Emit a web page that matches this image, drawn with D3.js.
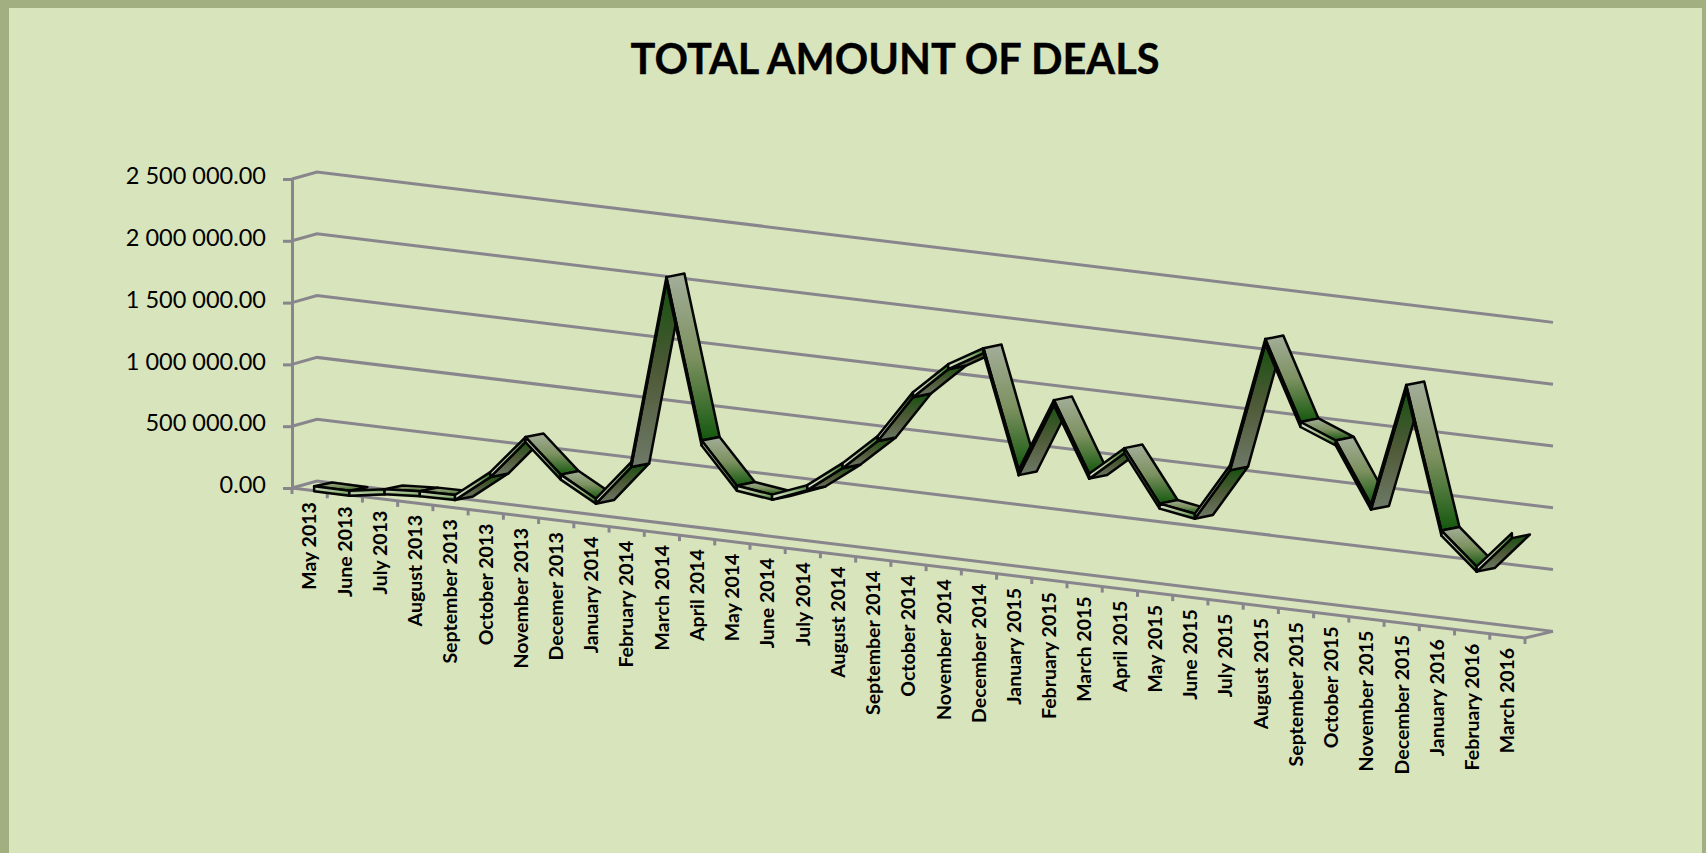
<!DOCTYPE html>
<html>
<head>
<meta charset="utf-8">
<script src="https://cdn.jsdelivr.net/npm/d3@7"></script>
<style>
  html, body { margin: 0; padding: 0; background: #d8e4bc; }
  svg { display: block; }
</style>
</head>
<body>
<div id="chart"></div>
<script>
// months and deal amounts ("Decemer" is spelled that way in the source)
var months = ["May 2013", "June 2013", "July 2013", "August 2013", "September 2013", "October 2013",
    "November 2013", "Decemer 2013", "January 2014", "February 2014", "March 2014", "April 2014",
    "May 2014", "June 2014", "July 2014", "August 2014", "September 2014", "October 2014",
    "November 2014", "December 2014", "January 2015", "February 2015", "March 2015", "April 2015",
    "May 2015", "June 2015", "July 2015", "August 2015", "September 2015", "October 2015",
    "November 2015", "December 2015", "January 2016", "February 2016", "March 2016"];
var deals = [25000, 22000, 70000, 88000, 92000, 312000, 630000, 361000, 201000, 532000, 2063000, 775000,
    445000, 407000, 519000, 731000, 985000, 1375000, 1636000, 1800000, 848000, 1449000, 889000, 1130000,
    716000, 669000, 1096000, 2151000, 1515000, 1400000, 916000, 1918000, 775000, 518000, 824000];
var valueTicks = [0, 500000, 1000000, 1500000, 2000000, 2500000];

var width = 1706, height = 853;
var lineColor = "#88868c";

var svg = d3.select("#chart")
    .append("svg")
    .attr("width", width)
    .attr("height", height);

// frame
svg.append("rect").attr("width", width).attr("height", height).attr("fill", "#a2b081");
svg.append("rect").attr("x", 9).attr("y", 8).attr("width", 1693).attr("height", 845).attr("fill", "#d8e4bc");

svg.append("text")
    .attr("x", 895)
    .attr("y", 74)
    .attr("text-anchor", "middle")
    .attr("stroke", "#000")
    .attr("stroke-width", 0.3)
    .style("font-family", "Lato, sans-serif")
    .style("font-size", "41.5px")
    .style("font-weight", "bold")
    .text("TOTAL AMOUNT OF DEALS");

// oblique projection: category along the floor, value upward, depth into the chart
var x = d3.scaleBand().domain(months).range([292, 1525]);
var floorY = d3.scaleLinear().domain([292, 1525]).range([488, 638]);
var y = d3.scaleLinear().domain([0, 2500000]).range([488, 179]);
var depthX = d3.scaleLinear().domain([0, 1]).range([0, 25]);
var depthY = d3.scaleLinear().domain([0, 1]).range([0, -7]);
var ribbonDepthY = d3.scaleLinear().domain([0, 1]).range([0, -5]);

function project(px, value, depth) {
    return [px + depthX(depth), floorY(px) + y(value) - y(0) + depthY(depth)];
}
function projectRibbon(px, value, depth) {
    return [px + depthX(depth), floorY(px) + y(value) - y(0) + ribbonDepthY(depth)];
}
function center(month) { return x(month) + x.bandwidth() / 2; }

var wall = svg.append("g").attr("fill", "none").attr("stroke", lineColor).attr("stroke-width", 3);
var line = d3.line();

// grid lines: left wall then back wall
wall.selectAll("path.grid")
    .data(valueTicks)
    .enter()
    .append("path")
    .attr("class", "grid")
    .attr("d", function (d) {
        return line([project(292, d, 0), project(292, d, 1), project(1528, d, 1)]);
    });

// floor front edge and right edge
wall.append("path")
    .attr("d", line([project(292, 0, 0), project(1525, 0, 0), project(1528, 0, 1)]));

// value axis
var yAxis = svg.append("g")
    .attr("transform", "translate(292,0)")
    .call(d3.axisLeft(y)
        .tickValues(valueTicks)
        .tickSize(9)
        .tickPadding(17)
        .tickFormat(function (d) { return d3.format(",.2f")(d).replace(/,/g, " "); }));
yAxis.selectAll("line").attr("stroke", lineColor).attr("stroke-width", 3);
yAxis.select(".domain").attr("stroke", lineColor).attr("stroke-width", 3);
yAxis.selectAll("text")
    .attr("fill", "#000")
    .attr("dy", "0.2em")
    .style("font-family", "Lato, sans-serif")
    .style("font-size", "23.5px");

// category ticks
var tickXs = months.map(function (m) { return x(m); }).concat([1525]);
wall.selectAll("line.cat")
    .data(tickXs)
    .enter()
    .append("line")
    .attr("class", "cat")
    .attr("x1", function (d) { return d; })
    .attr("x2", function (d) { return d; })
    .attr("y1", function (d) { return floorY(d); })
    .attr("y2", function (d) { return floorY(d) + 6; });

// category labels
svg.selectAll("text.month")
    .data(months)
    .enter()
    .append("text")
    .attr("class", "month")
    .attr("text-anchor", "end")
    .attr("dy", "0.35em")
    .attr("transform", function (d) {
        return "translate(" + center(d) + "," + (floorY(center(d)) + 12) + ") rotate(-90)";
    })
    .style("font-family", "Lato, sans-serif")
    .style("font-size", "19.5px")
    .style("font-weight", "bold")
    .text(function (d) { return d; });

// gradients
var defs = svg.append("defs");
function gradient(id, stops) {
    var g = defs.append("linearGradient").attr("id", id)
        .attr("x1", 0).attr("y1", 0).attr("x2", 0).attr("y2", 1);
    stops.forEach(function (s) {
        g.append("stop").attr("offset", s[0]).attr("stop-color", s[1]);
    });
}
gradient("topFace", [[0, "#a3ae99"], [0.5, "#7d9160"], [1, "#14580e"]]);
gradient("underFace", [[0, "#14500e"], [0.5, "#4f5a38"], [1, "#6f7a68"]]);
gradient("edgeDown", [[0, "#e4ecd8"], [0.6, "#9ab884"], [1, "#1c6a12"]]);
gradient("edgeUp", [[0, "#1c6a12"], [0.4, "#9ab884"], [1, "#eef3e4"]]);

// ribbon, painted left to right so later segments sit over earlier ones
var front = 0.18, back = 0.9, thick = 5;
var segments = d3.pairs(d3.zip(months, deals));
var ribbon = svg.append("g")
    .attr("stroke", "#050505")
    .attr("stroke-width", 2.5)
    .attr("stroke-linejoin", "round");

segments.forEach(function (pair) {
    var a = pair[0], b = pair[1];
    var ax = center(a[0]), bx = center(b[0]);
    var af = projectRibbon(ax, a[1], front), bf = projectRibbon(bx, b[1], front);
    var ab = projectRibbon(ax, a[1], back), bb = projectRibbon(bx, b[1], back);
    var falling = bf[1] > af[1];
    var t = falling ? 0 : thick;

    // broad face: the top when falling, the underside when rising
    ribbon.append("path")
        .attr("fill", falling ? "url(#topFace)" : "url(#underFace)")
        .attr("d", line([[af[0], af[1] + t], [bf[0], bf[1] + t], [bb[0], bb[1] + t], [ab[0], ab[1] + t]]) + "Z");

    // thin front face
    ribbon.append("path")
        .attr("fill", falling ? "url(#edgeDown)" : "url(#edgeUp)")
        .attr("d", line([af, bf, [bf[0], bf[1] + thick], [af[0], af[1] + thick]]) + "Z");
});
</script>
</body>
</html>
